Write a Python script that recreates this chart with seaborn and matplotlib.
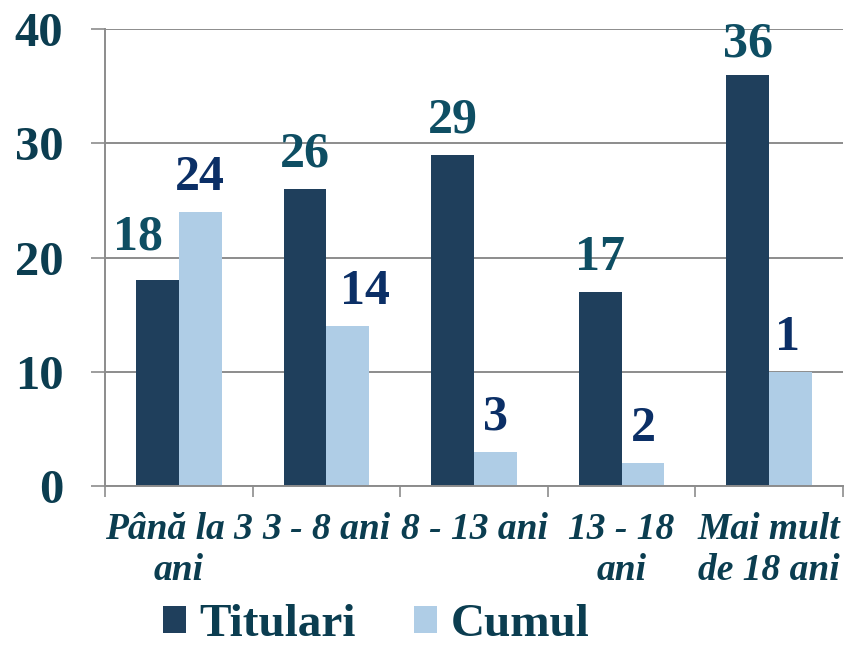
import matplotlib
matplotlib.use("Agg")
import matplotlib.pyplot as plt
import seaborn as sns
import pandas as pd
from matplotlib.patches import Patch

categories = ["Până la 3\nani", "3 - 8 ani", "8 - 13 ani", "13 - 18\nani", "Mai mult\nde 18 ani"]
titulari = [18, 26, 29, 17, 36]
cumul = [24, 14, 3, 2, 10]
titulari_labels = ["18", "26", "29", "17", "36"]
cumul_labels = ["24", "14", "3", "2", "1"]
series_names = ["Titulari", "Cumul"]
yticks = [0, 10, 20, 30, 40]

c_tit = "#1F3F5C"
c_cum = "#AFCDE6"
c_tick = "#0B3D50"
c_lab_tit = "#0E4E63"
c_lab_cum = "#0B2F66"
grid_c = "#8C8C8C"

df = pd.DataFrame({
    "cat": categories * 2,
    "val": titulari + cumul,
    "series": [series_names[0]] * 5 + [series_names[1]] * 5,
})

sns.set_style("white")
plt.rcParams["font.family"] = ["Liberation Serif", "DejaVu Serif"]

fig = plt.figure(figsize=(8.46, 6.5), dpi=100)
ax = fig.add_axes([105 / 846, (650 - 486) / 650, 738 / 846, 457 / 650])

sns.barplot(data=df, x="cat", y="val", hue="series", palette=[c_tit, c_cum],
            width=0.58, saturation=1, ax=ax, legend=False, order=categories,
            hue_order=series_names, linewidth=0)

ax.set_xlim(-0.5, 4.5)
ax.set_ylim(0, 40)
ax.set_yticks(yticks)
ax.set_yticklabels([str(v) for v in yticks], fontsize=35, fontweight="bold", color=c_tick)
ax.yaxis.grid(True, color=grid_c, linewidth=1.4)
ax.set_axisbelow(True)
ax.tick_params(axis="y", length=10, width=1.2, color=grid_c, pad=20, left=True)

ax.set_xticks(range(5))
ax.set_xticklabels(categories, fontsize=27, fontweight="bold", style="italic",
                   color=c_tick, linespacing=1.22)
ax.set_xticks([i - 0.5 for i in range(6)], minor=True)
ax.tick_params(axis="x", which="major", length=0, pad=19)
ax.tick_params(axis="x", which="minor", length=8, width=1.2, color=grid_c, bottom=True)
ax.set_xlabel("")
ax.set_ylabel("")

for s in ["top", "right"]:
    ax.spines[s].set_visible(False)
for s in ["left", "bottom"]:
    ax.spines[s].set_color(grid_c)
    ax.spines[s].set_linewidth(1.4)

# value labels
tit_dx = [-14, 0, 0, 0, 0]
tit_dy = [22, 16, 16, 16, 13]
cum_dx = [0, 12, 0, 0, -2]
cum_dy = [16, 16, 16, 16, 16]
bars_t = ax.containers[0]
bars_c = ax.containers[1]
for i, (b, lab) in enumerate(zip(bars_t, titulari_labels)):
    ax.annotate(lab, (b.get_x() + b.get_width() / 2, b.get_height()),
                xytext=(tit_dx[i], tit_dy[i]), textcoords="offset points", ha="center",
                va="baseline", fontsize=36, fontweight="bold", color=c_lab_tit)
for i, (b, lab) in enumerate(zip(bars_c, cumul_labels)):
    ax.annotate(lab, (b.get_x() + b.get_width() / 2, b.get_height()),
                xytext=(cum_dx[i], cum_dy[i]), textcoords="offset points", ha="center",
                va="baseline", fontsize=36, fontweight="bold", color=c_lab_cum)

handles = [Patch(facecolor=c_tit, edgecolor="none"), Patch(facecolor=c_cum, edgecolor="none")]
fig.legend(handles, series_names, loc="lower left", bbox_to_anchor=(130 / 846, -0.045),
           ncol=2, frameon=False, prop={"family": "Liberation Serif", "weight": "bold", "size": 34},
           labelcolor=c_tick, handlelength=0.48, handleheight=0.48, handletextpad=0.28,
           columnspacing=1.25, borderpad=0.2)

fig.savefig("out.png", dpi=100)
